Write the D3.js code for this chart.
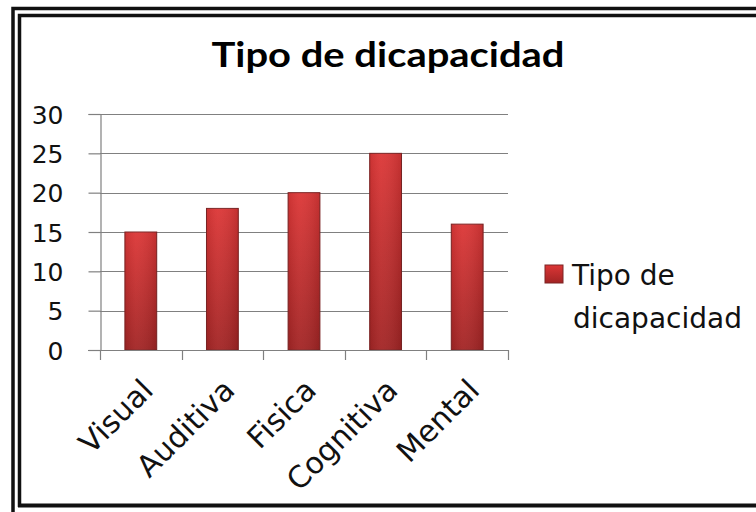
<!DOCTYPE html>
<html>
<head>
<meta charset="utf-8">
<script src="https://cdn.jsdelivr.net/npm/d3@7"></script>
<style>
  html, body { margin: 0; padding: 0; background: #fff; }
  svg { display: block; }
</style>
</head>
<body>
<svg id="chart" width="756" height="512"></svg>
<script>
// Data
const title = "Tipo de dicapacidad";
const categories = ["Visual", "Auditiva", "Fisica", "Cognitiva", "Mental"];
const values = [15, 18, 20, 25, 16];
const yTicks = [0, 5, 10, 15, 20, 25, 30];
const legendLines = ["Tipo de", "dicapacidad"];

const svg = d3.select("#chart");

// Double frame around the chart
const frame = svg.append("g").attr("fill", "none").attr("stroke", "#111");
frame.append("path").attr("stroke-width", 3.5).attr("d", "M13,512 V8.5 H756");
frame.append("path").attr("stroke-width", 3.5).attr("d", "M19.5,507 V15.5 H756");
frame.append("path").attr("stroke-width", 4).attr("d", "M18,505.5 H756");

// Bar gradients: vertical colour ramp plus a soft horizontal shade
const defs = svg.append("defs");
const grad = defs.append("linearGradient").attr("id", "barFill")
  .attr("x1", 0).attr("y1", 0).attr("x2", 0).attr("y2", 1);
grad.append("stop").attr("offset", "0%").attr("stop-color", "#dc3636");
grad.append("stop").attr("offset", "100%").attr("stop-color", "#a22424");

const gradH = defs.append("linearGradient").attr("id", "barShade")
  .attr("x1", 0).attr("y1", 0).attr("x2", 1).attr("y2", 0);
gradH.append("stop").attr("offset", "0%").attr("stop-color", "#000").attr("stop-opacity", 0.08);
gradH.append("stop").attr("offset", "35%").attr("stop-color", "#fff").attr("stop-opacity", 0.05);
gradH.append("stop").attr("offset", "100%").attr("stop-color", "#000").attr("stop-opacity", 0.12);

// Scales
const x = d3.scaleBand().domain(categories).range([100, 508]).padding(0);
const y = d3.scaleLinear().domain([0, 30]).range([350, 114]);
const barW = x.bandwidth() * 0.39;

// Gridlines
svg.append("g").selectAll("line").data(yTicks.filter(t => t > 0)).join("line")
  .attr("x1", 100).attr("x2", 508)
  .attr("y1", d => Math.round(y(d)) + 0.5).attr("y2", d => Math.round(y(d)) + 0.5)
  .attr("stroke", "#808080").attr("stroke-width", 1.2);

// Y axis
const yAxis = svg.append("g").attr("transform", "translate(100.5,0)")
  .call(d3.axisLeft(y).tickValues(yTicks).tickSize(12).tickPadding(25));
yAxis.select(".domain").attr("stroke", "#808080").attr("stroke-width", 1.2);
yAxis.selectAll(".tick line").attr("stroke", "#808080").attr("stroke-width", 1.2);
yAxis.selectAll(".tick text")
  .attr("font-family", "DejaVu Sans").attr("font-size", 25).attr("fill", "#111")
  .attr("dy", "0.36em");

// Bars
svg.append("g").selectAll("rect.bar").data(values).join("rect")
  .attr("class", "bar")
  .attr("x", (d, i) => x(categories[i]) + (x.bandwidth() - barW) / 2)
  .attr("y", d => y(d))
  .attr("width", barW)
  .attr("height", d => y(0) - y(d))
  .attr("fill", "url(#barFill)")
  .attr("stroke", "#7d2424").attr("stroke-width", 1);
svg.append("g").selectAll("rect").data(values).join("rect")
  .attr("x", (d, i) => x(categories[i]) + (x.bandwidth() - barW) / 2)
  .attr("y", d => y(d))
  .attr("width", barW)
  .attr("height", d => y(0) - y(d))
  .attr("fill", "url(#barShade)");

// X axis line and tick marks between categories
const xAxis = svg.append("g");
xAxis.append("line")
  .attr("x1", 88).attr("x2", 508)
  .attr("y1", y(0) + 0.5).attr("y2", y(0) + 0.5)
  .attr("stroke", "#808080").attr("stroke-width", 1.2);
const bounds = categories.map(c => x(c)).concat([x.range()[1]]);
xAxis.selectAll("line.tk").data(bounds).join("line")
  .attr("class", "tk")
  .attr("x1", d => Math.round(d) + 0.5).attr("x2", d => Math.round(d) + 0.5)
  .attr("y1", y(0)).attr("y2", y(0) + 10)
  .attr("stroke", "#808080").attr("stroke-width", 1.2);

// Rotated category labels
xAxis.selectAll("text").data(categories).join("text")
  .attr("transform", d => `translate(${x(d) + x.bandwidth() / 2 + 14},${y(0) + 42}) rotate(-45)`)
  .attr("text-anchor", "end")
  .attr("font-family", "DejaVu Sans").attr("font-size", 30).attr("fill", "#111")
  .text(d => d);

// Title
svg.append("text")
  .attr("x", 388).attr("y", 67)
  .attr("text-anchor", "middle")
  .attr("font-family", "Lato").attr("font-weight", "bold").attr("font-size", 35)
  .attr("textLength", 353).attr("lengthAdjust", "spacingAndGlyphs")
  .attr("fill", "#000")
  .text(title);

// Legend
const legend = svg.append("g");
legend.append("rect")
  .attr("x", 545).attr("y", 265).attr("width", 18).attr("height", 18)
  .attr("fill", "url(#barFill)").attr("stroke", "#7d2424");
legend.selectAll("text").data(legendLines).join("text")
  .attr("x", (d, i) => i === 0 ? 572 : 573)
  .attr("y", (d, i) => 285 + i * 43)
  .attr("font-family", "DejaVu Sans").attr("font-size", 28).attr("fill", "#111")
  .text(d => d);
</script>
</body>
</html>
